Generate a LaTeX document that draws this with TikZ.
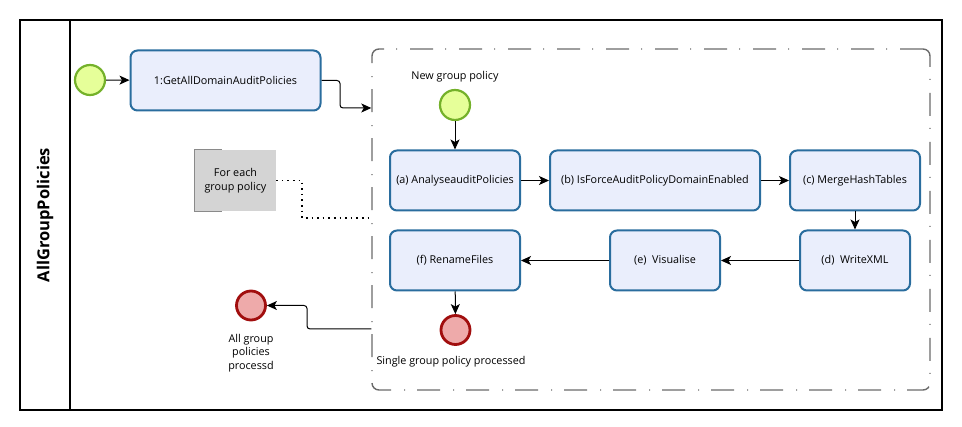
\documentclass[tikz,border=0pt]{standalone}
\usepackage{fontspec}
\setmainfont{Open Sans}
\usetikzlibrary{arrows.meta}
\definecolor{taskfill}{HTML}{EAEEFC}
\definecolor{taskdraw}{HTML}{2A6D9E}
\definecolor{startfill}{HTML}{E6FF99}
\definecolor{startdraw}{HTML}{74B12A}
\definecolor{endfill}{HTML}{EEAAAA}
\definecolor{enddraw}{HTML}{A10E0E}
\definecolor{annfill}{HTML}{D4D4D4}
\definecolor{anndraw}{HTML}{8A8A8A}
\definecolor{subdraw}{HTML}{6A6A6A}
\tikzset{
  txt/.style={font=\fontsize{10.8}{13.5}\selectfont, text=black},
  task/.style={txt, draw=taskdraw, fill=taskfill, line width=2pt, rounded corners=7pt,
    minimum height=60pt, inner sep=0pt, align=center},
  startev/.style={circle, draw=startdraw, fill=startfill, line width=2.2pt, minimum size=30pt, inner sep=0pt},
  endev/.style={circle, draw=enddraw, fill=endfill, line width=2.8pt, minimum size=29pt, inner sep=0pt},
  conn/.style={draw=black, line width=1pt, rounded corners=3pt, -{Stealth[length=10pt,width=9pt,inset=2.5pt]}},
  assoc/.style={draw=black, line width=1.6pt, dash pattern=on 1.6pt off 4pt},
  subbox/.style={draw=subdraw, line width=1.4pt, rounded corners=7pt, dash pattern=on 23pt off 13pt on 1pt off 12pt, inner sep=0pt}
}
\begin{document}
\begin{tikzpicture}[x=1pt,y=-1pt]
\useasboundingbox (0,0) rectangle (962,427);
% pool
\draw[line width=1.1pt] (20,20) rectangle (942,410);
\draw[line width=1.1pt] (70,20) -- (70,410);
\node[rotate=90, font=\bfseries\fontsize{16.5}{18}\selectfont] (lane) at (45,215) {AllGroupPolicies};
% subprocess
\node[subbox, minimum width=558pt, minimum height=341pt] (sub) at (651,219.5) {};
% start
\node[startev] (s0) at (90,80) {};
\node[task, minimum width=190pt] (t1) at (225.5,80.5) {1:GetAllDomainAuditPolicies};
% inner
\node[txt] (lblnew) at (455,77) {New group policy};
\node[startev] (sa) at (455,105) {};
\node[task, minimum width=130pt] (ta) at (455,180.5) {(a) AnalyseauditPolicies};
\node[task, minimum width=210pt] (tb) at (655,180.5) {(b) IsForceAuditPolicyDomainEnabled};
\node[task, minimum width=130pt] (tc) at (855,180.5) {(c) MergeHashTables};
\node[task, minimum width=110pt] (td) at (855,260.5) {(d)\ \ WriteXML};
\node[task, minimum width=110pt] (te) at (665,260.5) {(e)\ \ Visualise};
\node[task, minimum width=130pt] (tf) at (455,260.5) {(f) RenameFiles};
\node[endev] (ea) at (455.5,330) {};
\node[txt] (lblsingle) at (451,362) {Single group policy processed};
% outer end
\node[endev] (eall) at (251,305.5) {};
\node[txt, align=center] (lblall) at (251,353) {All group\\policies\\processd};
% annotation
\node[txt, fill=annfill, minimum width=81pt, minimum height=61pt, inner sep=0pt, align=center] (ann) at (235.5,180.5) {For each\\group policy};
\draw[anndraw, line width=1.2pt] ([xshift=27pt]ann.north west) -- (ann.north west) -- (ann.south west) -- ([xshift=27pt]ann.south west);
% connectors
\draw[conn] (s0) -- (t1);
\draw[conn] (t1.east) -- (340,80.5) -- (340,108) -- (sub.west |- 0,108);
\draw[conn] (sa) -- (ta);
\draw[conn] (ta) -- (tb);
\draw[conn] (tb) -- (tc);
\draw[conn] (tc) -- (td);
\draw[conn] (td) -- (te);
\draw[conn] (te) -- (tf);
\draw[conn] (tf) -- (ea);
\draw[conn] (sub.west |- 0,329) -- (307,329) -- (307,305.5) -- (eall);
\draw[assoc] (ann.east) -- (302,180.5) -- (302,218) -- (sub.west |- 0,218);
\end{tikzpicture}
\end{document}
